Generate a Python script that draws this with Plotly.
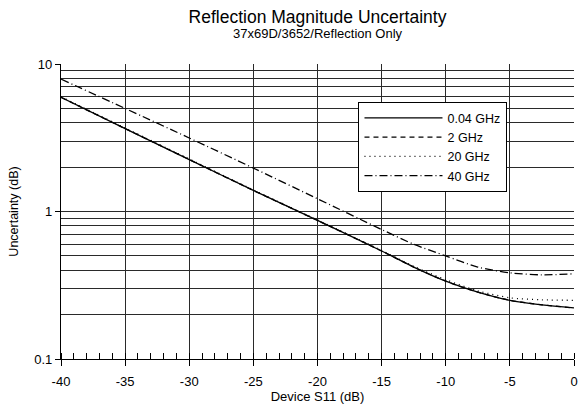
import plotly.graph_objects as go

# Data
s11_db = [-40, -35, -30, -25, -20, -15, -12.5, -10, -7.5, -5, -2.5, 0]
unc_004ghz = [5.94, 3.65, 2.25, 1.39, 0.87, 0.54, 0.42, 0.337, 0.284, 0.25, 0.233, 0.222]
unc_2ghz = [5.94, 3.65, 2.25, 1.39, 0.87, 0.54, 0.42, 0.337, 0.284, 0.25, 0.233, 0.222]
unc_20ghz = [6.0, 3.68, 2.27, 1.40, 0.875, 0.545, 0.425, 0.345, 0.29, 0.26, 0.252, 0.25]
unc_40ghz = [7.9, 5.0, 3.15, 1.97, 1.22, 0.755, 0.60, 0.50, 0.42, 0.384, 0.372, 0.378]

series_names = ["0.04 GHz", "2 GHz", "20 GHz", "40 GHz"]
series_values = [unc_004ghz, unc_2ghz, unc_20ghz, unc_40ghz]
series_dash = ["solid", "5px,4px", "1px,4px", "8px,3px,1px,3px"]

x_tick_vals = [-40, -35, -30, -25, -20, -15, -10, -5, 0]
x_tick_text = ["-40", "-35", "-30", "-25", "-20", "-15", "-10", "-5", "0"]
y_tick_vals = [0.1, 1, 10]
y_tick_text = ["0.1", "1", "10"]
y_minor_vals = [0.2, 0.3, 0.4, 0.5, 0.6, 0.7, 0.8, 0.9, 2, 3, 4, 5, 6, 7, 8, 9]

FONT = "Liberation Sans, Arial, sans-serif"
GRID = "#2a2a2a"

fig = go.Figure()
for name, vals, dash in zip(series_names, series_values, series_dash):
    fig.add_trace(go.Scatter(
        x=s11_db, y=vals, name=name, mode="lines",
        line=dict(color="black", width=1.3, dash=dash, shape="spline", smoothing=0.8),
    ))

fig.update_layout(
    width=578, height=404,
    margin=dict(l=61, r=4, t=64, b=45),
    paper_bgcolor="white", plot_bgcolor="white",
    font=dict(family=FONT, color="black", size=12),
    title=dict(text="Reflection Magnitude Uncertainty", x=0.5, xref="paper",
               xanchor="center", y=1 - 17 / 404, yref="container", yanchor="middle",
               font=dict(size=17.5, family=FONT, color="black")),
    showlegend=True,
    legend=dict(x=0.5795, y=0.871, xanchor="left", yanchor="top",
                bgcolor="white", bordercolor="black", borderwidth=1.2,
                font=dict(size=12.5, family=FONT), itemwidth=78, tracegroupgap=0),
    annotations=[dict(text="37x69D/3652/Reflection Only", x=0.5, xref="paper",
                      y=(359 - 33) / 295, yref="paper", yanchor="middle", showarrow=False,
                      font=dict(size=13, family=FONT, color="black"))],
)

fig.update_xaxes(
    range=[-40, 0], tickvals=x_tick_vals, ticktext=x_tick_text, ticks="outside",
    ticklen=6, tickwidth=1.2, tickcolor="black", ticklabelstandoff=4,
    showgrid=True, gridcolor=GRID, gridwidth=1.2, automargin=False,
    showline=True, linecolor="black", linewidth=1.2, zeroline=False,
    tickfont=dict(size=13, family=FONT),
    title=dict(text="Device S11 (dB)", font=dict(size=13, family=FONT), standoff=0),
    minor=dict(dtick=1, tick0=-40, ticks="inside", ticklen=6, tickwidth=1.2,
               tickcolor="black", showgrid=False),
)
fig.update_yaxes(
    type="log", range=[-1, 1], tickvals=y_tick_vals, ticktext=y_tick_text,
    ticks="outside", ticklen=5, tickwidth=1.2, tickcolor="black", automargin=False,
    showgrid=True, gridcolor=GRID, gridwidth=1.2,
    showline=True, linecolor="black", linewidth=1.2, zeroline=False,
    tickfont=dict(size=13, family=FONT),
    title=dict(text="Uncertainty (dB)", font=dict(size=12.5, family=FONT), standoff=12),
    minor=dict(tickvals=y_minor_vals, ticks="", showgrid=True,
               gridcolor=GRID, gridwidth=1.2),
)

fig.write_html("out.html", config={"displayModeBar": False},
               post_script="document.body.style.margin='0';")
